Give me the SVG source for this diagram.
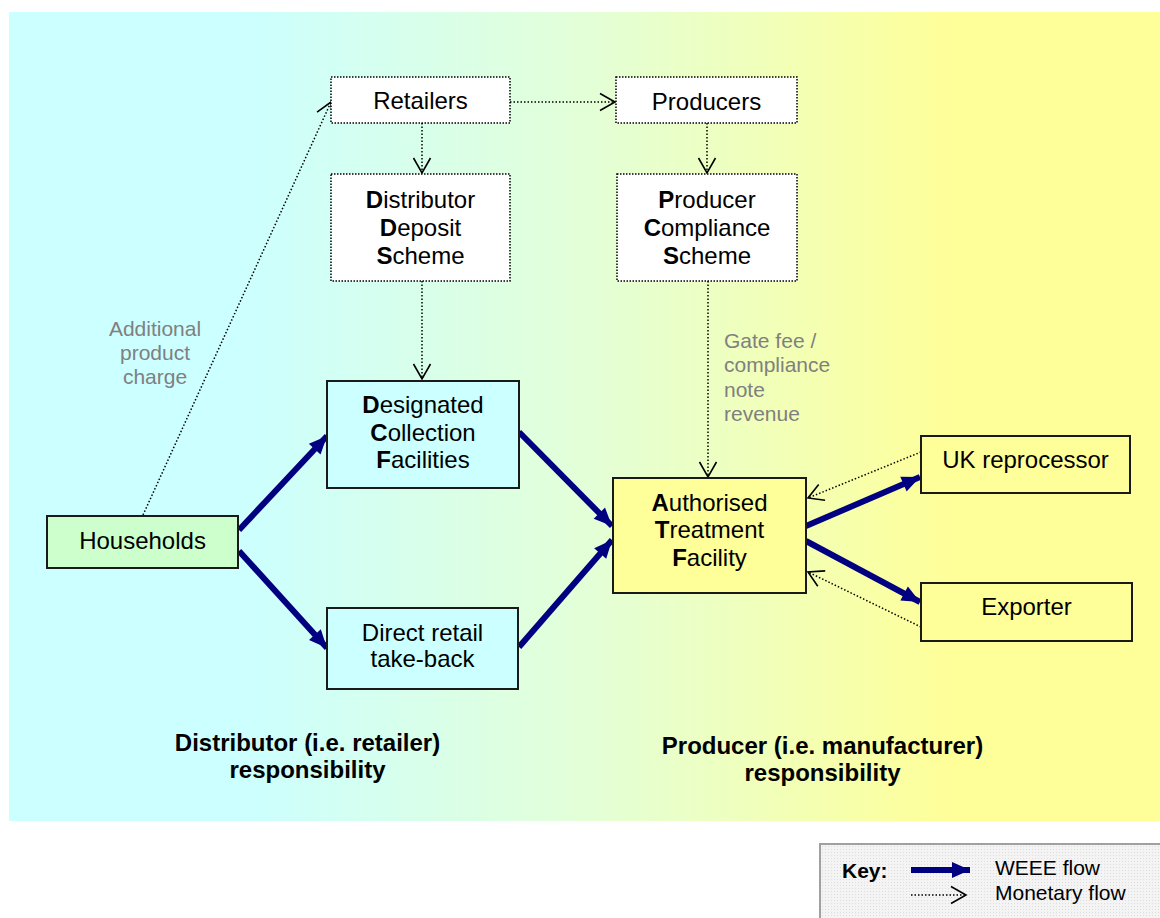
<svg xmlns="http://www.w3.org/2000/svg" width="1160" height="918" viewBox="0 0 1160 918">
  <defs>
    <linearGradient id="bg" x1="0" y1="0" x2="1" y2="0">
      <stop offset="0" stop-color="#CCFFFF"/>
      <stop offset="0.2" stop-color="#CCFFFF"/>
      <stop offset="0.5" stop-color="#E3FFD8"/>
      <stop offset="0.82" stop-color="#FFFF99"/>
      <stop offset="1" stop-color="#FFFF99"/>
    </linearGradient>
    <pattern id="dots" width="3" height="3" patternUnits="userSpaceOnUse">
      <rect width="3" height="3" fill="#F4F4F4"/>
      <rect width="1" height="1" fill="#DDDDDD"/>
    </pattern>
    <marker id="weee" markerUnits="userSpaceOnUse" markerWidth="24" markerHeight="20" refX="0" refY="0" viewBox="-20 -10 24 20" orient="auto" overflow="visible">
      <path d="M-18,-8 L0,0 L-18,8 Z" fill="#000080"/>
    </marker>
    <marker id="money" markerUnits="userSpaceOnUse" markerWidth="20" markerHeight="20" refX="0" refY="0" viewBox="-18 -10 20 20" orient="auto" overflow="visible">
      <path d="M-15,-8.5 L0,0 L-15,8.5" fill="none" stroke="#000" stroke-width="1.6"/>
    </marker>
  </defs>
  <style>
    text { font-family: "Liberation Sans", Arial, sans-serif; font-size: 24px; fill: #000; }
    .c { text-anchor: middle; }
    b, .b { font-weight: bold; }
    .grey { fill: #808080; font-size: 21px; }
    .head { font-weight: bold; text-anchor: middle; }
    .dotbox { fill: #FFFFFF; stroke: #000; stroke-width: 1.5; stroke-dasharray: 1.5 1.5; }
    .solid { stroke: #1A1A1A; stroke-width: 2; }
    .cyan { fill: #CCFFFF; }
    .green { fill: #CCFFCC; }
    .yellow { fill: #FFFF99; }
    .flow { stroke: #000080; stroke-width: 6; fill: none; marker-end: url(#weee); }
    .pay { stroke: #000; stroke-width: 1.5; stroke-dasharray: 1.5 2; fill: none; marker-end: url(#money); }
    .key { font-size: 21px; }
  </style>

  <!-- background panel -->
  <rect x="9" y="12" width="1151" height="809" fill="url(#bg)"/>

  <!-- connectors -->
  <g id="connectors">
    <!-- WEEE flows -->
    <line class="flow" x1="239" y1="530" x2="327" y2="436"/>
    <line class="flow" x1="239" y1="551" x2="327" y2="648"/>
    <line class="flow" x1="519" y1="432" x2="612" y2="526"/>
    <line class="flow" x1="519" y1="647" x2="612" y2="540"/>
    <line class="flow" x1="806" y1="526" x2="920" y2="477"/>
    <line class="flow" x1="806" y1="541" x2="920" y2="602"/>
    <!-- monetary flows -->
    <line class="pay" x1="143" y1="515" x2="331" y2="102"/>
    <line class="pay" x1="510" y1="102" x2="615" y2="102"/>
    <line class="pay" x1="422" y1="123" x2="422" y2="173"/>
    <line class="pay" x1="707" y1="123" x2="707" y2="173"/>
    <line class="pay" x1="422" y1="281" x2="422" y2="379"/>
    <line class="pay" x1="708" y1="281" x2="708" y2="477"/>
    <line class="pay" x1="921" y1="452" x2="808" y2="498"/>
    <line class="pay" x1="921" y1="627" x2="808" y2="572"/>
  </g>

  <!-- dotted monetary nodes -->
  <g id="retailers">
    <rect class="dotbox" x="331" y="77" width="179" height="46"/>
    <text class="c" x="420.5" y="109">Retailers</text>
  </g>
  <g id="producers">
    <rect class="dotbox" x="616" y="77" width="181" height="46"/>
    <text class="c" x="706.5" y="110">Producers</text>
  </g>
  <g id="dds">
    <rect class="dotbox" x="331" y="174" width="179" height="107"/>
    <text class="c" x="420.5" y="208"><tspan class="b">D</tspan>istributor</text>
    <text class="c" x="420.5" y="236"><tspan class="b">D</tspan>eposit</text>
    <text class="c" x="420.5" y="264"><tspan class="b">S</tspan>cheme</text>
  </g>
  <g id="pcs">
    <rect class="dotbox" x="617" y="174" width="180" height="107"/>
    <text class="c" x="707" y="208"><tspan class="b">P</tspan>roducer</text>
    <text class="c" x="707" y="236"><tspan class="b">C</tspan>ompliance</text>
    <text class="c" x="707" y="264"><tspan class="b">S</tspan>cheme</text>
  </g>

  <!-- WEEE nodes -->
  <g id="households">
    <rect class="solid green" x="47" y="516" width="191" height="52"/>
    <text class="c" x="142.5" y="549">Households</text>
  </g>
  <g id="dcf">
    <rect class="solid cyan" x="327" y="381" width="192" height="107"/>
    <text class="c" x="423" y="413"><tspan class="b">D</tspan>esignated</text>
    <text class="c" x="423" y="441"><tspan class="b">C</tspan>ollection</text>
    <text class="c" x="423" y="468"><tspan class="b">F</tspan>acilities</text>
  </g>
  <g id="direct-retail">
    <rect class="solid cyan" x="327" y="608" width="191" height="81"/>
    <text class="c" x="422.5" y="641">Direct retail</text>
    <text class="c" x="422.5" y="667">take-back</text>
  </g>
  <g id="atf">
    <rect class="solid yellow" x="613" y="478" width="193" height="115"/>
    <text class="c" x="709.5" y="511"><tspan class="b">A</tspan>uthorised</text>
    <text class="c" x="709.5" y="538"><tspan class="b">T</tspan>reatment</text>
    <text class="c" x="709.5" y="566"><tspan class="b">F</tspan>acility</text>
  </g>
  <g id="uk-reprocessor">
    <rect class="solid yellow" x="921" y="436" width="209" height="57"/>
    <text class="c" x="1025.5" y="468">UK reprocessor</text>
  </g>
  <g id="exporter">
    <rect class="solid yellow" x="921" y="583" width="211" height="58"/>
    <text class="c" x="1026.5" y="615">Exporter</text>
  </g>

  <!-- flow labels -->
  <g id="label-charge">
    <text class="grey c" x="155" y="336">Additional</text>
    <text class="grey c" x="155" y="360">product</text>
    <text class="grey c" x="155" y="384">charge</text>
  </g>
  <g id="label-gate-fee">
    <text class="grey" x="724" y="348">Gate fee /</text>
    <text class="grey" x="724" y="372">compliance</text>
    <text class="grey" x="724" y="397">note</text>
    <text class="grey" x="724" y="421">revenue</text>
  </g>

  <!-- responsibility headings -->
  <g id="distributor-heading">
    <text class="head" x="307.5" y="751">Distributor (i.e. retailer)</text>
    <text class="head" x="307.5" y="778">responsibility</text>
  </g>
  <g id="producer-heading">
    <text class="head" x="822.5" y="754">Producer (i.e. manufacturer)</text>
    <text class="head" x="822.5" y="781">responsibility</text>
  </g>

  <!-- key -->
  <g id="key">
    <rect x="820" y="844" width="345" height="80" fill="url(#dots)" stroke="#A0A0A0" stroke-width="2"/>
    <text class="key b" x="842" y="878">Key:</text>
    <line x1="911" y1="870" x2="970" y2="870" stroke="#000080" stroke-width="6" marker-end="url(#weee)"/>
    <line x1="911" y1="895" x2="966" y2="895" stroke="#000" stroke-width="1.5" stroke-dasharray="1.5 2" marker-end="url(#money)"/>
    <text class="key" x="995" y="875">WEEE flow</text>
    <text class="key" x="995" y="900">Monetary flow</text>
  </g>
</svg>
